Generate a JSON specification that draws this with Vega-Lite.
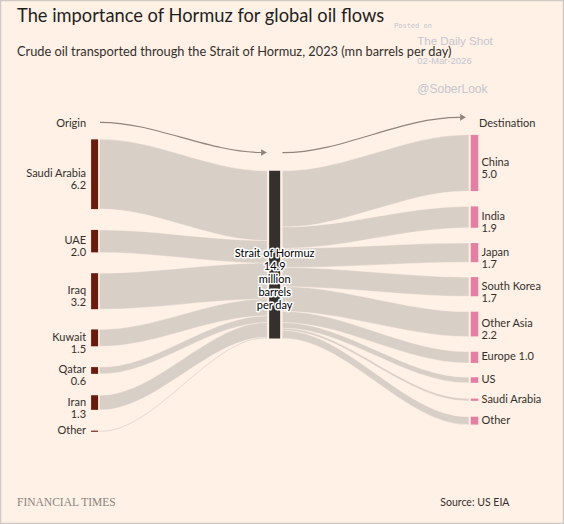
{
  "$schema": "https://vega.github.io/schema/vega-lite/v6.json",
  "autosize": "none",
  "width": 530,
  "height": 424,
  "padding": {"top": 100, "left": 17, "right": 17, "bottom": 0},
  "background": "#fff1e5",
  "datasets": {
    "nodes": [
      {"node": "Saudi Arabia", "side": "origin", "stage": 0, "value": 6.2, "top": -2.8, "bottom": 3.4, "label": "Saudi Arabia\n6.2"},
      {"node": "UAE", "side": "origin", "stage": 0, "value": 2.0, "top": 5.25, "bottom": 7.25, "label": "UAE\n2.0"},
      {"node": "Iraq", "side": "origin", "stage": 0, "value": 3.2, "top": 9.1, "bottom": 12.3, "label": "Iraq\n3.2"},
      {"node": "Kuwait", "side": "origin", "stage": 0, "value": 1.5, "top": 14.1, "bottom": 15.6, "label": "Kuwait\n1.5"},
      {"node": "Qatar", "side": "origin", "stage": 0, "value": 0.6, "top": 17.45, "bottom": 18.05, "label": "Qatar\n0.6"},
      {"node": "Iran", "side": "origin", "stage": 0, "value": 1.3, "top": 19.95, "bottom": 21.25, "label": "Iran\n1.3"},
      {"node": "Other", "side": "origin", "stage": 0, "value": 0.1, "top": 23.1, "bottom": 23.2, "label": "Other"},
      {"node": "Strait of Hormuz", "side": "strait", "stage": 0.948, "value": 14.9, "top": 0, "bottom": 14.9, "label": "Strait of Hormuz\n14.9\nmillion\nbarrels\nper day"},
      {"node": "China", "side": "destination", "stage": 2, "value": 5.0, "top": -3.2, "bottom": 1.8, "label": "China\n5.0"},
      {"node": "India", "side": "destination", "stage": 2, "value": 1.9, "top": 3.16, "bottom": 5.06, "label": "India\n1.9"},
      {"node": "Japan", "side": "destination", "stage": 2, "value": 1.7, "top": 6.42, "bottom": 8.12, "label": "Japan\n1.7"},
      {"node": "South Korea", "side": "destination", "stage": 2, "value": 1.7, "top": 9.45, "bottom": 11.15, "label": "South Korea\n1.7"},
      {"node": "Other Asia", "side": "destination", "stage": 2, "value": 2.2, "top": 12.52, "bottom": 14.72, "label": "Other Asia\n2.2"},
      {"node": "Europe", "side": "destination", "stage": 2, "value": 1.0, "top": 16.08, "bottom": 17.08, "label": "Europe 1.0"},
      {"node": "US", "side": "destination", "stage": 2, "value": 0.5, "top": 18.35, "bottom": 18.85, "label": "US"},
      {"node": "Saudi Arabia", "side": "destination", "stage": 2, "value": 0.2, "top": 20.25, "bottom": 20.45, "label": "Saudi Arabia"},
      {"node": "Other", "side": "destination", "stage": 2, "value": 0.7, "top": 21.86, "bottom": 22.56, "label": "Other"}
    ],
    "links": [
      {"link": "Saudi Arabia > Hormuz", "x": 0.026, "top": -2.8, "bottom": 3.4},
      {"link": "Saudi Arabia > Hormuz", "x": 0.036, "top": -2.8, "bottom": 3.4},
      {"link": "Saudi Arabia > Hormuz", "x": 0.899, "top": 0, "bottom": 6.2},
      {"link": "Saudi Arabia > Hormuz", "x": 0.909, "top": 0, "bottom": 6.2},
      {"link": "UAE > Hormuz", "x": 0.026, "top": 5.25, "bottom": 7.25},
      {"link": "UAE > Hormuz", "x": 0.036, "top": 5.25, "bottom": 7.25},
      {"link": "UAE > Hormuz", "x": 0.899, "top": 6.2, "bottom": 8.2},
      {"link": "UAE > Hormuz", "x": 0.909, "top": 6.2, "bottom": 8.2},
      {"link": "Iraq > Hormuz", "x": 0.026, "top": 9.1, "bottom": 12.3},
      {"link": "Iraq > Hormuz", "x": 0.036, "top": 9.1, "bottom": 12.3},
      {"link": "Iraq > Hormuz", "x": 0.899, "top": 8.2, "bottom": 11.4},
      {"link": "Iraq > Hormuz", "x": 0.909, "top": 8.2, "bottom": 11.4},
      {"link": "Kuwait > Hormuz", "x": 0.026, "top": 14.1, "bottom": 15.6},
      {"link": "Kuwait > Hormuz", "x": 0.036, "top": 14.1, "bottom": 15.6},
      {"link": "Kuwait > Hormuz", "x": 0.899, "top": 11.4, "bottom": 12.9},
      {"link": "Kuwait > Hormuz", "x": 0.909, "top": 11.4, "bottom": 12.9},
      {"link": "Qatar > Hormuz", "x": 0.026, "top": 17.45, "bottom": 18.05},
      {"link": "Qatar > Hormuz", "x": 0.036, "top": 17.45, "bottom": 18.05},
      {"link": "Qatar > Hormuz", "x": 0.899, "top": 12.9, "bottom": 13.5},
      {"link": "Qatar > Hormuz", "x": 0.909, "top": 12.9, "bottom": 13.5},
      {"link": "Iran > Hormuz", "x": 0.026, "top": 19.95, "bottom": 21.25},
      {"link": "Iran > Hormuz", "x": 0.036, "top": 19.95, "bottom": 21.25},
      {"link": "Iran > Hormuz", "x": 0.899, "top": 13.5, "bottom": 14.8},
      {"link": "Iran > Hormuz", "x": 0.909, "top": 13.5, "bottom": 14.8},
      {"link": "Other > Hormuz", "x": 0.026, "top": 23.1, "bottom": 23.2},
      {"link": "Other > Hormuz", "x": 0.036, "top": 23.1, "bottom": 23.2},
      {"link": "Other > Hormuz", "x": 0.899, "top": 14.8, "bottom": 14.9},
      {"link": "Other > Hormuz", "x": 0.909, "top": 14.8, "bottom": 14.9},
      {"link": "Hormuz > China", "x": 0.988, "top": 0, "bottom": 5.0},
      {"link": "Hormuz > China", "x": 0.998, "top": 0, "bottom": 5.0},
      {"link": "Hormuz > China", "x": 1.96, "top": -3.2, "bottom": 1.8},
      {"link": "Hormuz > China", "x": 1.97, "top": -3.2, "bottom": 1.8},
      {"link": "Hormuz > India", "x": 0.988, "top": 5.0, "bottom": 6.9},
      {"link": "Hormuz > India", "x": 0.998, "top": 5.0, "bottom": 6.9},
      {"link": "Hormuz > India", "x": 1.96, "top": 3.16, "bottom": 5.06},
      {"link": "Hormuz > India", "x": 1.97, "top": 3.16, "bottom": 5.06},
      {"link": "Hormuz > Japan", "x": 0.988, "top": 6.9, "bottom": 8.6},
      {"link": "Hormuz > Japan", "x": 0.998, "top": 6.9, "bottom": 8.6},
      {"link": "Hormuz > Japan", "x": 1.96, "top": 6.42, "bottom": 8.12},
      {"link": "Hormuz > Japan", "x": 1.97, "top": 6.42, "bottom": 8.12},
      {"link": "Hormuz > South Korea", "x": 0.988, "top": 8.6, "bottom": 10.3},
      {"link": "Hormuz > South Korea", "x": 0.998, "top": 8.6, "bottom": 10.3},
      {"link": "Hormuz > South Korea", "x": 1.96, "top": 9.45, "bottom": 11.15},
      {"link": "Hormuz > South Korea", "x": 1.97, "top": 9.45, "bottom": 11.15},
      {"link": "Hormuz > Other Asia", "x": 0.988, "top": 10.3, "bottom": 12.5},
      {"link": "Hormuz > Other Asia", "x": 0.998, "top": 10.3, "bottom": 12.5},
      {"link": "Hormuz > Other Asia", "x": 1.96, "top": 12.52, "bottom": 14.72},
      {"link": "Hormuz > Other Asia", "x": 1.97, "top": 12.52, "bottom": 14.72},
      {"link": "Hormuz > Europe", "x": 0.988, "top": 12.5, "bottom": 13.5},
      {"link": "Hormuz > Europe", "x": 0.998, "top": 12.5, "bottom": 13.5},
      {"link": "Hormuz > Europe", "x": 1.96, "top": 16.08, "bottom": 17.08},
      {"link": "Hormuz > Europe", "x": 1.97, "top": 16.08, "bottom": 17.08},
      {"link": "Hormuz > US", "x": 0.988, "top": 13.5, "bottom": 14.0},
      {"link": "Hormuz > US", "x": 0.998, "top": 13.5, "bottom": 14.0},
      {"link": "Hormuz > US", "x": 1.96, "top": 18.35, "bottom": 18.85},
      {"link": "Hormuz > US", "x": 1.97, "top": 18.35, "bottom": 18.85},
      {"link": "Hormuz > Saudi Arabia", "x": 0.988, "top": 14.0, "bottom": 14.2},
      {"link": "Hormuz > Saudi Arabia", "x": 0.998, "top": 14.0, "bottom": 14.2},
      {"link": "Hormuz > Saudi Arabia", "x": 1.96, "top": 20.25, "bottom": 20.45},
      {"link": "Hormuz > Saudi Arabia", "x": 1.97, "top": 20.25, "bottom": 20.45},
      {"link": "Hormuz > Other", "x": 0.988, "top": 14.2, "bottom": 14.9},
      {"link": "Hormuz > Other", "x": 0.998, "top": 14.2, "bottom": 14.9},
      {"link": "Hormuz > Other", "x": 1.96, "top": 21.86, "bottom": 22.56},
      {"link": "Hormuz > Other", "x": 1.97, "top": 21.86, "bottom": 22.56}
    ],
    "arrows": [
      {"arrow": "origin", "x": 0.0284, "y": -4.317},
      {"arrow": "origin", "x": 0.0337, "y": -4.317},
      {"arrow": "origin", "x": 0.8813, "y": -1.632},
      {"arrow": "origin", "x": 0.8866, "y": -1.632},
      {"arrow": "destination", "x": 0.989, "y": -1.615},
      {"arrow": "destination", "x": 0.994, "y": -1.615},
      {"arrow": "destination", "x": 1.9184, "y": -4.761},
      {"arrow": "destination", "x": 1.9237, "y": -4.761}
    ],
    "arrowheads": [
      {"arrow": "origin", "x": 0.8918, "y": -1.632},
      {"arrow": "destination", "x": 1.9395, "y": -4.761}
    ]
  },
  "layer": [
    {
      "data": {"values": [{"frame": "border"}]},
      "mark": {"type": "rect", "fill": "transparent", "stroke": "#cfcac5", "strokeWidth": 2.5},
      "encoding": {
        "x": {"datum": -0.498, "type": "quantitative", "scale": {"domain": [-0.4085, 2.3817], "nice": false, "zero": false, "padding": 0}, "axis": null},
        "x2": {"datum": 2.4712},
        "y": {"datum": -15.19, "type": "quantitative", "scale": {"domain": [-6.3, 31.4], "reverse": true, "nice": false, "zero": false, "padding": 0}, "axis": null},
        "y2": {"datum": 31.4}
      }
    },
    {
      "data": {"name": "links"},
      "mark": {"type": "area", "interpolate": "monotone", "color": "#d8cfc6", "stroke": "#fff1e5", "strokeWidth": 0.4},
      "encoding": {
        "x": {"field": "x", "type": "quantitative", "scale": {"domain": [-0.4085, 2.3817], "nice": false, "zero": false, "padding": 0}, "axis": null},
        "y": {"field": "top", "type": "quantitative", "scale": {"domain": [-6.3, 31.4], "reverse": true, "nice": false, "zero": false, "padding": 0}, "axis": null},
        "y2": {"field": "bottom"},
        "detail": {"field": "link"}
      }
    },
    {
      "data": {"name": "arrows"},
      "mark": {"type": "line", "interpolate": "monotone", "color": "#8f857d", "strokeWidth": 1.2},
      "encoding": {
        "x": {"field": "x", "type": "quantitative", "scale": {"domain": [-0.4085, 2.3817], "nice": false, "zero": false, "padding": 0}, "axis": null},
        "y": {"field": "y", "type": "quantitative", "scale": {"domain": [-6.3, 31.4], "reverse": true, "nice": false, "zero": false, "padding": 0}, "axis": null},
        "detail": {"field": "arrow"}
      }
    },
    {
      "data": {"name": "arrowheads"},
      "mark": {"type": "point", "shape": "triangle-right", "filled": true, "size": 45, "color": "#8f857d", "opacity": 1},
      "encoding": {
        "x": {"field": "x", "type": "quantitative", "scale": {"domain": [-0.4085, 2.3817], "nice": false, "zero": false, "padding": 0}, "axis": null},
        "y": {"field": "y", "type": "quantitative", "scale": {"domain": [-6.3, 31.4], "reverse": true, "nice": false, "zero": false, "padding": 0}, "axis": null}
      }
    },
    {
      "data": {"name": "nodes"},
      "transform": [{"filter": "datum.side === 'origin'"}],
      "mark": {"type": "bar", "width": 7, "color": "#6b1a0c"},
      "encoding": {
        "x": {"field": "stage", "type": "quantitative", "scale": {"domain": [-0.4085, 2.3817], "nice": false, "zero": false, "padding": 0}, "axis": null},
        "y": {"field": "top", "type": "quantitative", "scale": {"domain": [-6.3, 31.4], "reverse": true, "nice": false, "zero": false, "padding": 0}, "axis": null},
        "y2": {"field": "bottom"}
      }
    },
    {
      "data": {"name": "nodes"},
      "transform": [{"filter": "datum.side === 'strait'"}],
      "mark": {"type": "bar", "width": 11, "color": "#33302e"},
      "encoding": {
        "x": {"field": "stage", "type": "quantitative", "scale": {"domain": [-0.4085, 2.3817], "nice": false, "zero": false, "padding": 0}, "axis": null},
        "y": {"field": "top", "type": "quantitative", "scale": {"domain": [-6.3, 31.4], "reverse": true, "nice": false, "zero": false, "padding": 0}, "axis": null},
        "y2": {"field": "bottom"}
      }
    },
    {
      "data": {"name": "nodes"},
      "transform": [{"filter": "datum.side === 'destination'"}],
      "mark": {"type": "bar", "width": 7.5, "color": "#e67ea3"},
      "encoding": {
        "x": {"field": "stage", "type": "quantitative", "scale": {"domain": [-0.4085, 2.3817], "nice": false, "zero": false, "padding": 0}, "axis": null},
        "y": {"field": "top", "type": "quantitative", "scale": {"domain": [-6.3, 31.4], "reverse": true, "nice": false, "zero": false, "padding": 0}, "axis": null},
        "y2": {"field": "bottom"}
      }
    },
    {
      "data": {"name": "nodes"},
      "transform": [
        {"filter": "datum.side === 'origin'"},
        {"fold": ["top", "bottom"], "as": ["edge", "pos"]},
        {"aggregate": [{"op": "mean", "field": "pos", "as": "mid"}], "groupby": ["node", "side", "stage", "label"]}
      ],
      "mark": {"type": "text", "align": "right", "baseline": "middle", "dx": -8.5, "lineBreak": "\n", "lineHeight": 12, "font": "Lato", "fontSize": 11, "color": "#33302e"},
      "encoding": {
        "x": {"field": "stage", "type": "quantitative", "scale": {"domain": [-0.4085, 2.3817], "nice": false, "zero": false, "padding": 0}, "axis": null},
        "y": {"field": "mid", "type": "quantitative", "scale": {"domain": [-6.3, 31.4], "reverse": true, "nice": false, "zero": false, "padding": 0}, "axis": null},
        "text": {"field": "label"}
      }
    },
    {
      "data": {"name": "nodes"},
      "transform": [
        {"filter": "datum.side === 'destination'"},
        {"fold": ["top", "bottom"], "as": ["edge", "pos"]},
        {"aggregate": [{"op": "mean", "field": "pos", "as": "mid"}], "groupby": ["node", "side", "stage", "label"]}
      ],
      "mark": {"type": "text", "align": "left", "baseline": "middle", "dx": 7, "lineBreak": "\n", "lineHeight": 12, "font": "Lato", "fontSize": 11, "color": "#33302e"},
      "encoding": {
        "x": {"field": "stage", "type": "quantitative", "scale": {"domain": [-0.4085, 2.3817], "nice": false, "zero": false, "padding": 0}, "axis": null},
        "y": {"field": "mid", "type": "quantitative", "scale": {"domain": [-6.3, 31.4], "reverse": true, "nice": false, "zero": false, "padding": 0}, "axis": null},
        "text": {"field": "label"}
      }
    },
    {
      "data": {"name": "nodes"},
      "transform": [
        {"filter": "datum.side === 'strait'"},
        {"fold": ["top", "bottom"], "as": ["edge", "pos"]},
        {"aggregate": [{"op": "mean", "field": "pos", "as": "mid"}], "groupby": ["node", "side", "stage", "label"]}
      ],
      "mark": {"type": "text", "align": "center", "baseline": "middle", "dy": -1, "lineBreak": "\n", "lineHeight": 13, "font": "Lato", "fontSize": 11, "color": "#ffffff", "stroke": "#ffffff", "strokeWidth": 3, "strokeJoin": "round"},
      "encoding": {
        "x": {"field": "stage", "type": "quantitative", "scale": {"domain": [-0.4085, 2.3817], "nice": false, "zero": false, "padding": 0}, "axis": null},
        "y": {"field": "mid", "type": "quantitative", "scale": {"domain": [-6.3, 31.4], "reverse": true, "nice": false, "zero": false, "padding": 0}, "axis": null},
        "text": {"field": "label"}
      }
    },
    {
      "data": {"name": "nodes"},
      "transform": [
        {"filter": "datum.side === 'strait'"},
        {"fold": ["top", "bottom"], "as": ["edge", "pos"]},
        {"aggregate": [{"op": "mean", "field": "pos", "as": "mid"}], "groupby": ["node", "side", "stage", "label"]}
      ],
      "mark": {"type": "text", "align": "center", "baseline": "middle", "dy": -1, "lineBreak": "\n", "lineHeight": 13, "font": "Lato", "fontSize": 11, "color": "#000000"},
      "encoding": {
        "x": {"field": "stage", "type": "quantitative", "scale": {"domain": [-0.4085, 2.3817], "nice": false, "zero": false, "padding": 0}, "axis": null},
        "y": {"field": "mid", "type": "quantitative", "scale": {"domain": [-6.3, 31.4], "reverse": true, "nice": false, "zero": false, "padding": 0}, "axis": null},
        "text": {"field": "label"}
      }
    },
    {
      "data": {"values": [{"t": "The importance of Hormuz for global oil flows"}]},
      "mark": {"type": "text", "align": "left", "baseline": "alphabetic", "font": "Lato", "fontSize": 18.3, "color": "#1f1f1f"},
      "encoding": {
        "x": {"datum": -0.4085, "type": "quantitative", "scale": {"domain": [-0.4085, 2.3817], "nice": false, "zero": false, "padding": 0}, "axis": null},
        "y": {"datum": -13.23, "type": "quantitative", "scale": {"domain": [-6.3, 31.4], "reverse": true, "nice": false, "zero": false, "padding": 0}, "axis": null},
        "text": {"field": "t"}
      }
    },
    {
      "data": {"values": [{"t": "Crude oil transported through the Strait of Hormuz, 2023 (mn barrels per day)"}]},
      "mark": {"type": "text", "align": "left", "baseline": "alphabetic", "font": "Lato", "fontSize": 12.8, "color": "#33302e"},
      "encoding": {
        "x": {"datum": -0.4085, "type": "quantitative", "scale": {"domain": [-0.4085, 2.3817], "nice": false, "zero": false, "padding": 0}, "axis": null},
        "y": {"datum": -10.21, "type": "quantitative", "scale": {"domain": [-6.3, 31.4], "reverse": true, "nice": false, "zero": false, "padding": 0}, "axis": null},
        "text": {"field": "t"}
      }
    },
    {
      "data": {"values": [{"t": "Origin"}]},
      "mark": {"type": "text", "align": "right", "baseline": "middle", "dx": -8.5, "font": "Lato", "fontSize": 11, "color": "#33302e"},
      "encoding": {
        "x": {"datum": 0, "type": "quantitative", "scale": {"domain": [-0.4085, 2.3817], "nice": false, "zero": false, "padding": 0}, "axis": null},
        "y": {"datum": -4.17, "type": "quantitative", "scale": {"domain": [-6.3, 31.4], "reverse": true, "nice": false, "zero": false, "padding": 0}, "axis": null},
        "text": {"field": "t"}
      }
    },
    {
      "data": {"values": [{"t": "Destination"}]},
      "mark": {"type": "text", "align": "left", "baseline": "middle", "dx": 4.5, "font": "Lato", "fontSize": 11, "color": "#33302e"},
      "encoding": {
        "x": {"datum": 2, "type": "quantitative", "scale": {"domain": [-0.4085, 2.3817], "nice": false, "zero": false, "padding": 0}, "axis": null},
        "y": {"datum": -4.17, "type": "quantitative", "scale": {"domain": [-6.3, 31.4], "reverse": true, "nice": false, "zero": false, "padding": 0}, "axis": null},
        "text": {"field": "t"}
      }
    },
    {
      "data": {"values": [{"t": "FINANCIAL TIMES"}]},
      "mark": {"type": "text", "align": "left", "baseline": "alphabetic", "font": "Liberation Serif", "fontSize": 11.5, "color": "#8b837d"},
      "encoding": {
        "x": {"datum": -0.4085, "type": "quantitative", "scale": {"domain": [-0.4085, 2.3817], "nice": false, "zero": false, "padding": 0}, "axis": null},
        "y": {"datum": 29.8, "type": "quantitative", "scale": {"domain": [-6.3, 31.4], "reverse": true, "nice": false, "zero": false, "padding": 0}, "axis": null},
        "text": {"field": "t"}
      }
    },
    {
      "data": {"values": [{"t": "Source: US EIA"}]},
      "mark": {"type": "text", "align": "right", "baseline": "alphabetic", "font": "Lato", "fontSize": 10.5, "color": "#33302e"},
      "encoding": {
        "x": {"datum": 2.184, "type": "quantitative", "scale": {"domain": [-0.4085, 2.3817], "nice": false, "zero": false, "padding": 0}, "axis": null},
        "y": {"datum": 29.8, "type": "quantitative", "scale": {"domain": [-6.3, 31.4], "reverse": true, "nice": false, "zero": false, "padding": 0}, "axis": null},
        "text": {"field": "t"}
      }
    },
    {
      "data": {"values": [{"t": "Posted on"}]},
      "mark": {"type": "text", "align": "left", "baseline": "middle", "font": "DejaVu Sans Mono", "fontSize": 7, "color": "#c3c6d3"},
      "encoding": {
        "x": {"datum": 1.5762, "type": "quantitative", "scale": {"domain": [-0.4085, 2.3817], "nice": false, "zero": false, "padding": 0}, "axis": null},
        "y": {"datum": -12.9, "type": "quantitative", "scale": {"domain": [-6.3, 31.4], "reverse": true, "nice": false, "zero": false, "padding": 0}, "axis": null},
        "text": {"field": "t"}
      }
    },
    {
      "data": {"values": [{"t": "The Daily Shot"}]},
      "mark": {"type": "text", "align": "left", "baseline": "middle", "font": "Liberation Sans", "fontSize": 11.5, "color": "#c3c6d3"},
      "encoding": {
        "x": {"datum": 1.6989, "type": "quantitative", "scale": {"domain": [-0.4085, 2.3817], "nice": false, "zero": false, "padding": 0}, "axis": null},
        "y": {"datum": -11.48, "type": "quantitative", "scale": {"domain": [-6.3, 31.4], "reverse": true, "nice": false, "zero": false, "padding": 0}, "axis": null},
        "text": {"field": "t"}
      }
    },
    {
      "data": {"values": [{"t": "02-Mar-2026"}]},
      "mark": {"type": "text", "align": "left", "baseline": "middle", "font": "Liberation Sans", "fontSize": 9.5, "color": "#c3c6d3"},
      "encoding": {
        "x": {"datum": 1.6989, "type": "quantitative", "scale": {"domain": [-0.4085, 2.3817], "nice": false, "zero": false, "padding": 0}, "axis": null},
        "y": {"datum": -9.77, "type": "quantitative", "scale": {"domain": [-6.3, 31.4], "reverse": true, "nice": false, "zero": false, "padding": 0}, "axis": null},
        "text": {"field": "t"}
      }
    },
    {
      "data": {"values": [{"t": "@SoberLook"}]},
      "mark": {"type": "text", "align": "left", "baseline": "middle", "font": "Liberation Sans", "fontSize": 12, "color": "#c3c6d3"},
      "encoding": {
        "x": {"datum": 1.6989, "type": "quantitative", "scale": {"domain": [-0.4085, 2.3817], "nice": false, "zero": false, "padding": 0}, "axis": null},
        "y": {"datum": -7.25, "type": "quantitative", "scale": {"domain": [-6.3, 31.4], "reverse": true, "nice": false, "zero": false, "padding": 0}, "axis": null},
        "text": {"field": "t"}
      }
    }
  ],
  "config": {
    "view": {"stroke": null}
  }
}
